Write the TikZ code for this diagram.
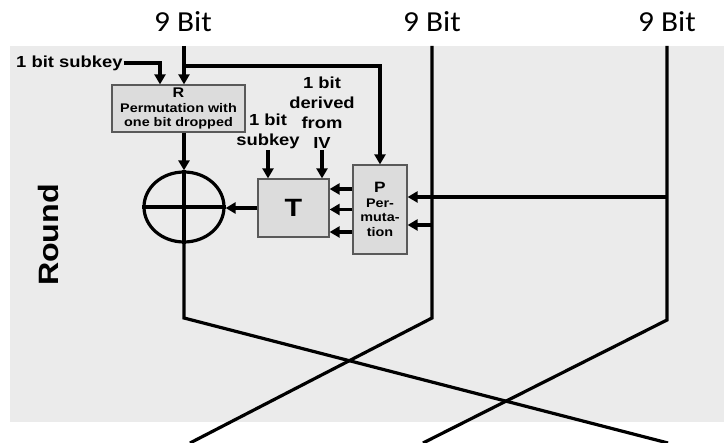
\documentclass[tikz,border=0pt]{standalone}
\usepackage{fontspec}
\setmainfont{Liberation Sans}
\newfontfamily\lblfont[FakeStretch=1.15]{Liberation Sans}
\newfontfamily\bitfont[FakeStretch=1.08]{Carlito}
\usetikzlibrary{arrows.meta,shapes.geometric,calc}

\definecolor{roundgray}{HTML}{EBEBEB}
\definecolor{boxgray}{HTML}{DCDCDC}

\begin{document}
\begin{tikzpicture}[
    x=1pt, y=-1pt,
    wire/.style={line width=3.2pt, line join=miter},
    flow/.style={wire, -{Triangle[length=10pt,width=11pt]}},
    box/.style={draw=black!65, line width=1.3pt, fill=boxgray, inner sep=1pt, align=center},
    lbl/.style={font=\lblfont\bfseries\fontsize{16}{20}\selectfont, align=center, inner sep=1pt},
    small/.style={font=\lblfont\bfseries\fontsize{12.5}{14.5}\selectfont},
    bitlabel/.style={font=\bitfont\fontsize{29}{32}\selectfont, anchor=base}
]

\useasboundingbox (0,0) rectangle (724,443);

% ---------- Round background ----------
\fill[roundgray] (10,46) rectangle (724,422);

\node[rotate=90, font=\lblfont\bfseries\fontsize{28}{30}\selectfont] (round) at (48,235) {Round};

% ---------- Inputs ----------
\node[bitlabel] (bitL) at (183,32) {9 Bit};
\node[bitlabel] (bitM) at (432,32) {9 Bit};
\node[bitlabel] (bitR) at (667,32) {9 Bit};

\coordinate (inL) at (184,46);
\coordinate (inM) at (432,46);
\coordinate (inR) at (667,46);

% ---------- Boxes ----------
\node[box, small, minimum width=133pt, minimum height=47pt] (R) at (178.5,108.5)
    {{\fontsize{14}{15}\selectfont R}\\Permutation with\\one bit dropped};

\node[box, minimum width=71pt, minimum height=58pt,
      font=\lblfont\bfseries\fontsize{25}{25}\selectfont] (T) at (293.5,208) {T};

\node[box, small, minimum width=54pt, minimum height=89pt] (P) at (380,209.5)
    {{\fontsize{15}{16}\selectfont P}\\Per-\\muta-\\tion};

\node[ellipse, draw, line width=3.2pt, minimum width=80pt, minimum height=70pt,
      inner sep=0pt] (xor) at (184,207) {};
\draw[wire] (xor.west) -- (xor.east);
\draw[wire] (xor.north) -- (xor.south);

% ---------- Key inputs ----------
\node[lbl, anchor=west] (keyR) at (15,63) {1 bit subkey};
\node[lbl, anchor=south] (keyT) at (268,150) {1 bit\\subkey};
\node[lbl, anchor=south] (iv) at (322,150) {1 bit\\derived\\from\\IV};

\draw[flow] (keyR.east) -| ($(R.north)+(-18.5,0)$);
\draw[flow] (keyT.south) -- (keyT.south |- T.north);
\draw[flow] (iv.south) -- (iv.south |- T.north);

% ---------- Left branch ----------
\coordinate (brL) at (184,66);
\draw[flow] (inL) -- (R.north -| inL);
\draw[flow] (brL) -| (P.north);
\draw[flow] (R.south -| xor) -- (xor.north);
\draw[flow] (T.west) -- (T.west -| xor.east);

% ---------- P to T ----------
\foreach \dy in {-20.5,0,22.5}
    \draw[flow] ($(P.west)+(0,\dy)$) -- ($(P.west -| T.east)+(0,\dy)$);

% ---------- Taps into P ----------
\coordinate (tapR) at (667,197);
\coordinate (tapM) at (432,225);
\draw[flow] (tapR) -- (tapR -| P.east);
\draw[flow] (tapM) -- (tapM -| P.east);

% ---------- Outputs (crossing) ----------
\coordinate (outL) at (668,443);
\coordinate (outM) at (190,443);
\coordinate (outR) at (423,443);

\draw[wire] (xor.south) -- (184,318) -- (outL);
\draw[wire] (inM) -- (432,318) -- (outM);
\draw[wire] (inR) -- (667,320) -- (outR);

\end{tikzpicture}
\end{document}
